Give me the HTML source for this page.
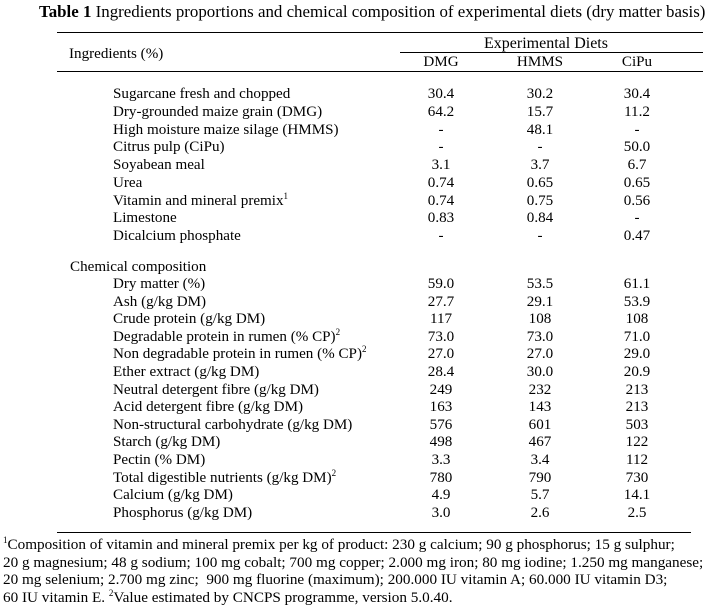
<!DOCTYPE html>
<html><head><meta charset="utf-8"><style>
body{margin:0;width:713px;height:608px;background:#fff;position:relative;font-family:"Liberation Serif",serif;color:#000;overflow:hidden}
div.t{position:absolute;white-space:nowrap;font-size:15.1px;line-height:16px}
.c{width:80px;text-align:center}
.ln{position:absolute;height:1px;background:#000}
sup{font-size:9px;line-height:0;vertical-align:6px}
</style></head><body>
<div class="t" style="left:39px;top:4px;font-size:16.9px"><b>Table 1</b> Ingredients proportions and chemical composition of experimental diets (dry matter basis)</div>
<div class="ln" style="left:57px;top:32px;width:646px"></div>
<div class="t" style="left:69px;top:46px">Ingredients (%)</div>
<div class="t" style="left:484px;top:36px;font-size:16px">Experimental Diets</div>
<div class="ln" style="left:400px;top:52px;width:303px"></div>
<div class="t c" style="left:401px;top:54px">DMG</div>
<div class="t c" style="left:500px;top:54px">HMMS</div>
<div class="t c" style="left:597px;top:54px">CiPu</div>
<div class="ln" style="left:57px;top:71px;width:646px"></div>
<div id="rows"></div>
<div class="t" style="left:70px;top:259px">Chemical composition</div>
<div class="ln" style="left:57px;top:532px;width:634px"></div>
<div class="t" style="left:3px;top:536px;line-height:17.7px;font-size:15.2px"><sup>1</sup>Composition of vitamin and mineral premix per kg of product: 230 g calcium; 90 g phosphorus; 15 g sulphur;<br>20 g magnesium; 48 g sodium; 100 mg cobalt; 700 mg copper; 2.000 mg iron; 80 mg iodine; 1.250 mg manganese;<br>20 mg selenium; 2.700 mg zinc;&nbsp; 900 mg fluorine (maximum); 200.000 IU vitamin A; 60.000 IU vitamin D3;<br>60 IU vitamin E. <sup>2</sup>Value estimated by CNCPS programme, version 5.0.40.</div>
<script>
const ingr=[["Sugarcane fresh and chopped","30.4","30.2","30.4"],["Dry-grounded maize grain (DMG)","64.2","15.7","11.2"],["High moisture maize silage (HMMS)","-","48.1","-"],["Citrus pulp (CiPu)","-","-","50.0"],["Soyabean meal","3.1","3.7","6.7"],["Urea","0.74","0.65","0.65"],["Vitamin and mineral premix<sup>1</sup>","0.74","0.75","0.56"],["Limestone","0.83","0.84","-"],["Dicalcium phosphate","-","-","0.47"]];
const chem=[["Dry matter (%)","59.0","53.5","61.1"],["Ash (g/kg DM)","27.7","29.1","53.9"],["Crude protein (g/kg DM)","117","108","108"],["Degradable protein in rumen (% CP)<sup>2</sup>","73.0","73.0","71.0"],["Non degradable protein in rumen (% CP)<sup>2</sup>","27.0","27.0","29.0"],["Ether extract (g/kg DM)","28.4","30.0","20.9"],["Neutral detergent fibre (g/kg DM)","249","232","213"],["Acid detergent fibre (g/kg DM)","163","143","213"],["Non-structural carbohydrate (g/kg DM)","576","601","503"],["Starch (g/kg DM)","498","467","122"],["Pectin (% DM)","3.3","3.4","112"],["Total digestible nutrients (g/kg DM)<sup>2</sup>","780","790","730"],["Calcium (g/kg DM)","4.9","5.7","14.1"],["Phosphorus (g/kg DM)","3.0","2.6","2.5"]];
const host=document.getElementById('rows');
function draw(arr,top,step){
arr.forEach((r,i)=>{const y=top+i*step;
const l=document.createElement('div');l.className='t';l.style.left='113px';l.style.top=y+'px';l.innerHTML=r[0];


host.appendChild(l);
[401,500,597].forEach((x,j)=>{const c=document.createElement('div');c.className='t c';c.style.left=x+'px';c.style.top=y+'px';c.textContent=r[j+1];


host.appendChild(c);});});}
draw(ingr,86,17.75);
draw(chem,276,17.6);
</script>
</body></html>
